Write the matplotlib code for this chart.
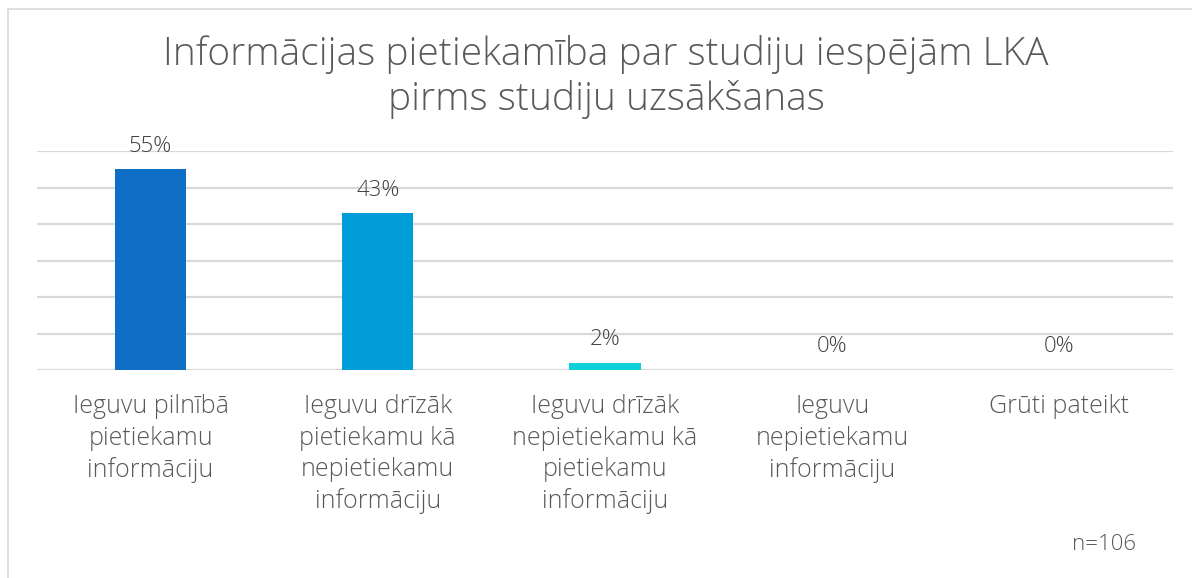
import matplotlib
matplotlib.use("Agg")
import matplotlib.pyplot as plt
from matplotlib.lines import Line2D

categories = [
    "Ieguvu pilnībā\npietiekamu\ninformāciju",
    "Ieguvu drīzāk\npietiekamu kā\nnepietiekamu\ninformāciju",
    "Ieguvu drīzāk\nnepietiekamu kā\npietiekamu\ninformāciju",
    "Ieguvu\nnepietiekamu\ninformāciju",
    "Grūti pateikt",
]
values = [55, 43, 2, 0, 0]
colors = ["#0F6FC6", "#009DD9", "#0BD0D9", "#10CF9B", "#7CCA62"]
title = "Informācijas pietiekamība par studiju iespējām LKA\npirms studiju uzsākšanas"
note = "n=106"

plt.rcParams['font.family'] = ['Open Sans', 'DejaVu Sans']
W, H = 1192, 578
fig = plt.figure(figsize=(W / 100, H / 100), dpi=100)
fig.patch.set_facecolor("white")

ax = fig.add_axes([37 / W, 1 - 370 / H, (1173 - 37) / W, (370 - 151) / H])
x = list(range(len(categories)))
ax.bar(x, values, width=0.313, color=colors, zorder=3)
ax.set_xlim(-0.5, len(categories) - 0.5)
ax.set_ylim(0, 60)
ax.set_yticks(range(0, 61, 10))
ax.yaxis.grid(True, color="#D9D9D9", linewidth=1.6, zorder=0)
ax.set_axisbelow(True)
for s in ax.spines.values():
    s.set_visible(False)
ax.tick_params(axis="y", left=False, labelleft=False)
ax.tick_params(axis="x", bottom=False, pad=14)
ax.set_xticks(x)
ax.set_xticklabels(categories, fontsize=18, color="#595959", linespacing=1.33,
                   va="top", fontweight="light")
for xi, v in zip(x, values):
    ax.annotate(f"{v}%", (xi, v), xytext=(0, 9), textcoords="offset points",
                ha="center", va="bottom", fontsize=16, color="#404040",
                fontweight="light")

fig.text(606 / W, 1 - 77 / H, title, ha="center", va="center", fontsize=28,
         color="#595959", linespacing=1.22, fontweight="light")
fig.text(1136 / W, 1 - 545 / H, note, ha="right", va="center",
         fontsize=16, color="#595959", fontweight="light")

fig.add_artist(Line2D([8 / W, 1], [1 - 9 / H, 1 - 9 / H], transform=fig.transFigure,
                      color="#D9D9D9", linewidth=1.2))
fig.add_artist(Line2D([8 / W, 8 / W], [0, 1 - 9 / H], transform=fig.transFigure,
                      color="#D9D9D9", linewidth=1.2))

fig.savefig("out.png", dpi=100, facecolor="white")
